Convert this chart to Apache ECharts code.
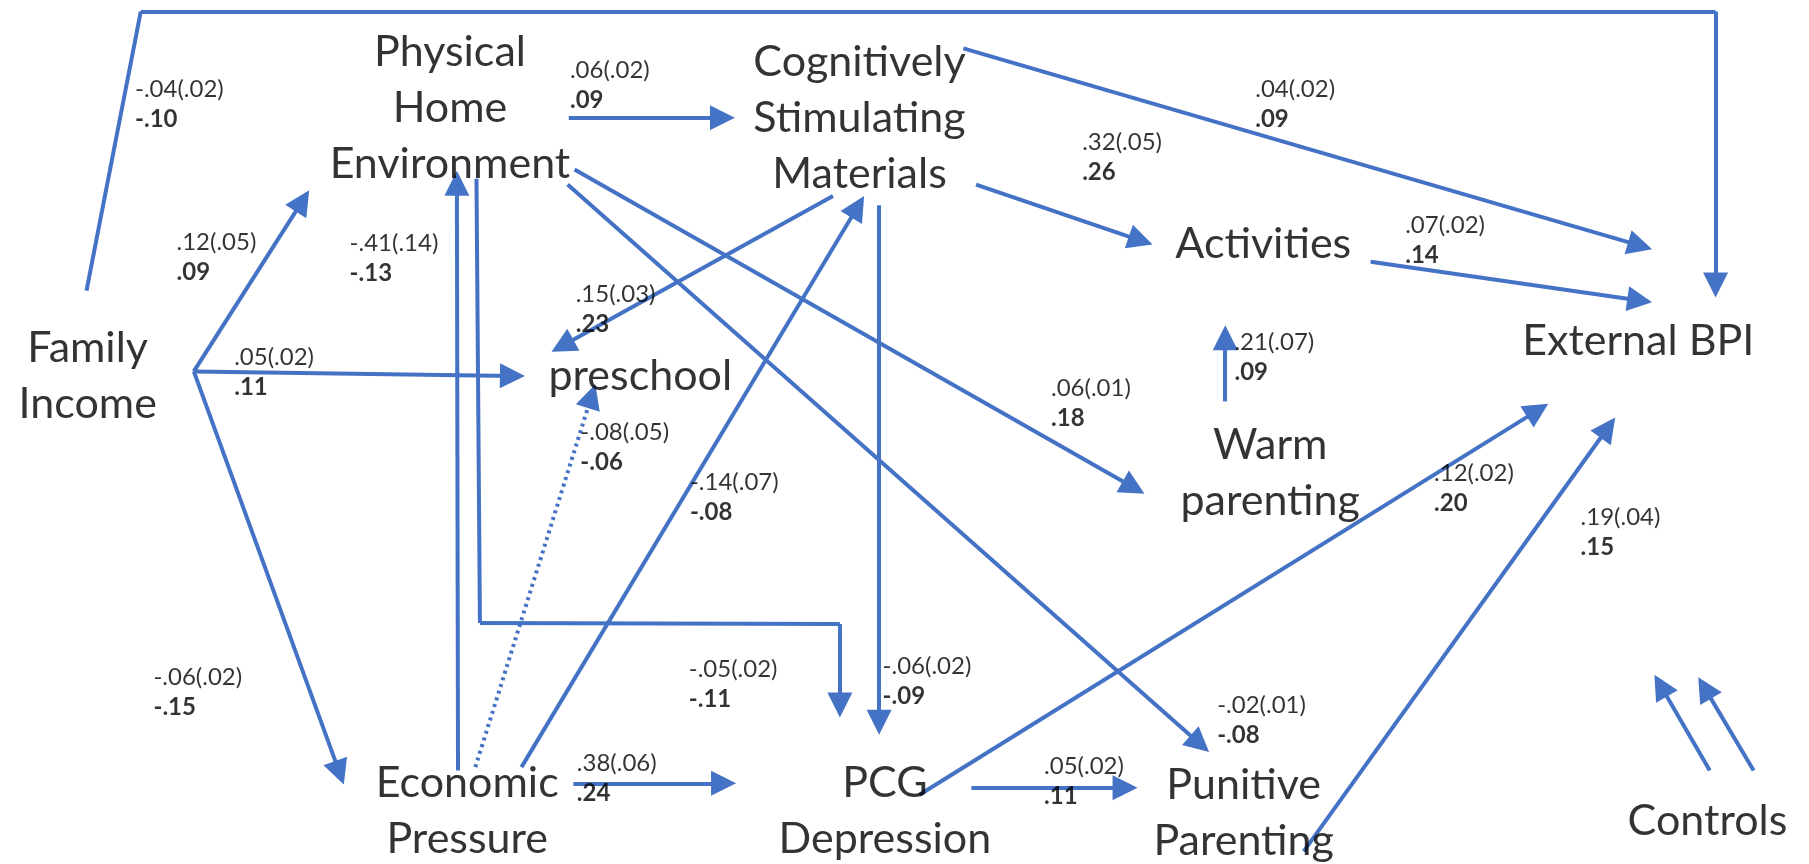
<!DOCTYPE html>
<html>
<head>
<meta charset="utf-8">
<script src="https://cdn.jsdelivr.net/npm/echarts@6/dist/echarts.min.js"></script>
<style>
  html, body { margin: 0; padding: 0; background: #fff; }
  #chart { width: 1809px; height: 864px; }
</style>
</head>
<body>
<div id="chart"></div>
<script>
// layout space: the figure drawn on a 1568 x 749 board (y grows downward)
const BOARD_W = 1568
const BOARD_H = 749

// variables of the path model
const nodeLabels = [
  'Family\nIncome',
  'Physical\nHome\nEnvironment',
  'Cognitively\nStimulating\nMaterials',
  'Activities',
  'External BPI',
  'preschool',
  'Warm\nparenting',
  'Economic\nPressure',
  'PCG\nDepression',
  'Punitive\nParenting',
  'Controls'
]
const nodeX = [76, 390, 745, 1095, 1420, 555, 1101, 405, 767, 1078, 1480]
const nodeY = [326, 94, 102, 212, 296, 326, 410, 703, 703, 705, 712]

// path coefficients: unstandardized (se) and standardized
const coefB = [
  '-.04(.02)', '.12(.05)', '.05(.02)', '-.06(.02)', '-.41(.14)', '-.05(.02)',
  '-.08(.05)', '-.14(.07)', '.06(.02)', '.15(.03)', '.06(.01)', '-.06(.02)',
  '.32(.05)', '.04(.02)', '.07(.02)', '.21(.07)', '.38(.06)', '.05(.02)',
  '.12(.02)', '-.02(.01)', '.19(.04)'
]
const coefBeta = [
  '-.10', '.09', '.11', '-.15', '-.13', '-.11',
  '-.06', '-.08', '.09', '.23', '.18', '-.09',
  '.26', '.09', '.14', '.09', '.24', '.11',
  '.20', '-.08', '.15'
]
const coefX = [117, 153, 203, 133, 303, 597, 503, 598, 494, 499, 911, 765, 938, 1088, 1218, 1070, 500, 905, 1243, 1055, 1370]
const coefY = [90, 223, 323, 600, 224, 593, 388, 431, 74, 268, 350, 591, 136, 90, 208, 310, 675, 677, 423, 624, 461]

// arrows, as point lists (last segment carries the head)
const edgePaths = [
  [[75, 252], [122, 10], [1487, 10], [1487, 258]], // income -> BPI
  [[168, 322], [268, 165]],                         // income -> home env
  [[168, 322], [455, 326]],                         // income -> preschool
  [[168, 322], [298, 680]],                         // income -> econ pressure
  [[397, 668], [396, 148]],                         // econ -> home env
  [[413, 155], [416, 540], [728, 541], [728, 622]], // home env -> PCG dep
  [[452, 665], [749, 170]],                         // econ -> materials
  [[493, 102], [637, 102]],                         // home env -> materials
  [[722, 170], [478, 305]],                         // materials -> preschool
  [[498, 147], [992, 428]],                         // home env -> warm
  [[492, 160], [1048, 652]],                        // home env -> punitive
  [[762, 178], [762, 637]],                         // materials -> PCG dep
  [[846, 160], [999, 212]],                         // materials -> activities
  [[835, 42], [1432, 216]],                         // materials -> BPI
  [[1188, 227], [1432, 262]],                       // activities -> BPI
  [[1062, 348], [1062, 282]],                       // warm -> activities
  [[497, 679], [638, 679]],                         // econ -> PCG dep
  [[842, 683], [986, 683]],                         // PCG dep -> punitive
  [[797, 689], [1342, 350]],                        // PCG dep -> BPI
  [[1130, 738], [1400, 362]],                       // punitive -> BPI
  [[1482, 668], [1434, 585]],                       // controls
  [[1520, 668], [1472, 587]]                        // controls
]
const dottedPaths = [
  [[412, 665], [516, 333]]                          // econ -> preschool (n.s.)
]

const BLUE = '#4472C4'
const HEAD = 25

// pull the end back so the head tip lands on the given point
function trimEnd(a, b) {
  const dx = b[0] - a[0], dy = b[1] - a[1]
  const len = Math.sqrt(dx * dx + dy * dy)
  const k = (HEAD / 2) * (BOARD_W / 1809) / len
  return [b[0] - dx * k, b[1] - dy * k]
}

const plainSegs = []
const arrowSegs = []
edgePaths.forEach(p => {
  for (let i = 0; i < p.length - 1; i++) {
    if (i === p.length - 2) {
      arrowSegs.push({ coords: [p[i], trimEnd(p[i], p[i + 1])] })
    } else {
      plainSegs.push({ coords: [p[i], p[i + 1]] })
    }
  }
})
const dottedSegs = dottedPaths.map(p => ({ coords: [p[0], trimEnd(p[0], p[1])] }))

const chart = echarts.init(document.getElementById('chart'))
chart.setOption({
  animation: false,
  backgroundColor: '#fff',
  grid: { left: 0, right: 0, top: 0, bottom: 0 },
  xAxis: { type: 'value', min: 0, max: BOARD_W, show: false },
  yAxis: { type: 'value', min: 0, max: BOARD_H, inverse: true, show: false },
  series: [
    {
      type: 'lines',
      coordinateSystem: 'cartesian2d',
      silent: true,
      symbol: 'none',
      lineStyle: { color: BLUE, width: 4, opacity: 1 },
      data: plainSegs
    },
    {
      type: 'lines',
      coordinateSystem: 'cartesian2d',
      silent: true,
      symbol: ['none', 'triangle'],
      symbolSize: HEAD,
      lineStyle: { color: BLUE, width: 4, opacity: 1 },
      data: arrowSegs
    },
    {
      type: 'lines',
      coordinateSystem: 'cartesian2d',
      silent: true,
      symbol: ['none', 'triangle'],
      symbolSize: HEAD,
      lineStyle: { color: BLUE, width: 4, opacity: 1, type: [3, 4] },
      data: dottedSegs
    },
    {
      type: 'scatter',
      symbolSize: 0,
      silent: true,
      label: {
        show: true,
        position: 'inside',
        align: 'center',
        verticalAlign: 'middle',
        color: '#000',
        fontFamily: 'Lato',
        fontSize: 43,
        lineHeight: 56,
        formatter: p => p.name
      },
      data: nodeLabels.map((n, i) => ({ name: n, value: [nodeX[i], nodeY[i]] }))
    },
    {
      type: 'scatter',
      symbolSize: 0,
      silent: true,
      label: {
        show: true,
        position: [0, 0],
        align: 'left',
        verticalAlign: 'middle',
        color: '#000',
        formatter: p => '{b|' + coefB[p.dataIndex] + '}\n{s|' + coefBeta[p.dataIndex] + '}',
        rich: {
          b: { fontFamily: 'Lato', fontSize: 24, lineHeight: 30, color: '#000' },
          s: { fontFamily: 'Lato', fontSize: 24, lineHeight: 30, fontWeight: 'bold', color: '#000' }
        }
      },
      data: coefB.map((c, i) => ({ name: c, value: [coefX[i], coefY[i]] }))
    }
  ]
})
</script>
</body>
</html>
